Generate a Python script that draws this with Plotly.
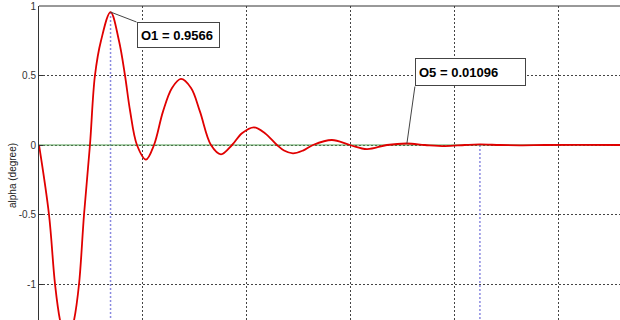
import plotly.graph_objects as go

# Response curve (x in grid units, y in degrees)
t = [0, 0.096, 0.154, 0.202, 0.269, 0.337, 0.385, 0.433, 0.490,
     0.538, 0.596, 0.688, 0.769, 0.827, 0.875, 0.942, 1.029, 1.106, 1.192,
     1.279, 1.365, 1.462, 1.548, 1.654, 1.750, 1.856, 1.952, 2.067, 2.173,
     2.288, 2.356, 2.442, 2.538, 2.635, 2.817,
     2.990, 3.154, 3.346, 3.538, 3.712, 3.904, 4.096, 4.240, 4.433, 4.625,
     4.865, 5.202, 5.587]
alpha = [0, -0.5, -1.0, -1.26, -1.45, -1.26, -1.0, -0.5, 0,
         0.5, 0.75, 0.9566, 0.75, 0.5, 0.25, 0, -0.105, 0, 0.24,
         0.41, 0.475, 0.41, 0.24, 0, -0.067, 0, 0.085, 0.127, 0.085,
         0, -0.04, -0.06, -0.04, 0, 0.036,
         0, -0.03, 0, 0.01096, 0, -0.008, 0, 0.004, 0, -0.002,
         0, 0.001, 0]

# Reference line
ref_x = [0, 5.587]
ref_y = [0, 0]

# Data tips
tip_labels = ["O1 = 0.9566", "O5 = 0.01096"]
tip_x = [0.688, 3.538]
tip_y = [0.9566, 0.01096]

# Dotted marker lines (x position, top value)
mark_x = [0.688, 4.240]
mark_top = [0.9566, 0.0]
y_bottom = -1.3

y_ticks = [-1, -0.5, 0, 0.5, 1]
y_tick_text = ["-1", "-0.5", "0", "0.5", "1"]
x_ticks = [0, 1, 2, 3, 4, 5]

fig = go.Figure()

for mx, mt in zip(mark_x, mark_top):
    fig.add_trace(go.Scatter(x=[mx, mx], y=[mt, y_bottom], mode="lines",
                             line=dict(color="#8a8ae0", width=1.5, dash="2px,2px"),
                             hoverinfo="skip", showlegend=False))

fig.add_trace(go.Scatter(x=ref_x, y=ref_y, mode="lines",
                         line=dict(color="#55a055", width=1.2),
                         showlegend=False))

fig.add_trace(go.Scatter(x=t, y=alpha, mode="lines",
                         line=dict(color="#e00000", width=1.8, shape="spline", smoothing=1.0),
                         showlegend=False))

# data tip boxes and leaders: (dx right, dy up) pixel offset of box top-left from the point
offsets = [(26, -10), (8, 85)]
widths = [75, 103]
heights = [18, 20]
corner_top = [True, False]   # leader goes to top-left (True) or bottom-left corner
for lab, px, py, (dx, dy), w, h, ct in zip(tip_labels, tip_x, tip_y, offsets, widths, heights, corner_top):
    fig.add_annotation(x=px, y=py, xref="x", yref="y", text="<b>%s</b>" % lab,
                       showarrow=False, xanchor="left", yanchor="top",
                       xshift=dx, yshift=dy,
                       align="left", width=w, height=h,
                       font=dict(family="Liberation Sans, Arial", size=13, color="#000"),
                       bordercolor="#444", borderwidth=1, borderpad=3, bgcolor="white")
    cy = dy if ct else dy - (h + 8)
    fig.add_shape(type="line", xref="x", yref="y", xsizemode="pixel", ysizemode="pixel",
                  xanchor=px, yanchor=py, x0=0, y0=0, x1=dx, y1=cy,
                  line=dict(color="#444", width=1))

# top border
fig.add_shape(type="line", xref="paper", yref="paper", x0=0, x1=1, y0=1, y1=1,
              line=dict(color="#333", width=1))

fig.add_annotation(text="alpha (degree)", xref="paper", yref="paper",
                   x=(12 - 39) / 581, y=(320 - 176) / 314, textangle=-90,
                   xanchor="center", yanchor="middle",
                   showarrow=False, font=dict(family="Liberation Sans, Arial", size=10, color="#222"))

fig.update_layout(
    width=620, height=320,
    margin=dict(l=39, r=0, t=6, b=0, autoexpand=False),
    paper_bgcolor="white", plot_bgcolor="white",
    xaxis=dict(range=[0, 5.587], tickvals=x_ticks, showticklabels=False, automargin=False,
               showgrid=True, gridcolor="#444", griddash="2px,2px", gridwidth=1,
               zeroline=False, showline=False, ticks=""),
    yaxis=dict(range=[-1.259, 1.0], tickvals=y_ticks, ticktext=y_tick_text, automargin=False,
               showgrid=True, gridcolor="#444", griddash="2px,2px", gridwidth=1,
               zeroline=False, showline=True, linecolor="#333", linewidth=1,
               ticks="inside", ticklen=4, tickcolor="#333",
               tickfont=dict(family="Liberation Sans, Arial", size=10, color="#333")),
)

fig.write_html("out.html", config={"displayModeBar": False},
               post_script="document.body.style.margin='0';document.body.style.overflow='hidden';")
